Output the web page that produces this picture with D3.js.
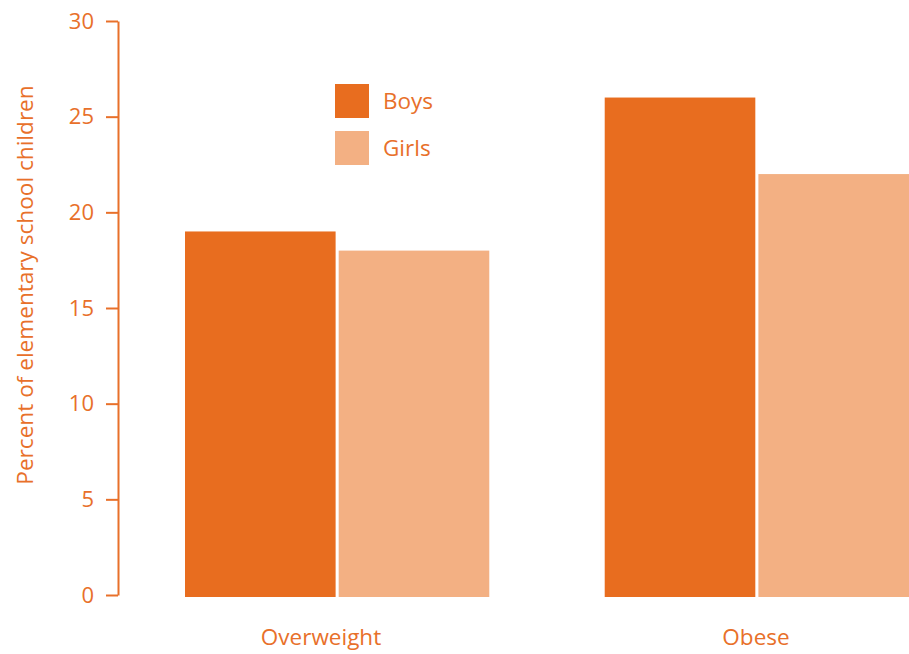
<!DOCTYPE html>
<html>
<head>
<meta charset="utf-8">
<script src="https://cdn.jsdelivr.net/npm/d3@7"></script>
<style>
  html, body { margin: 0; padding: 0; background: #fff; }
  svg { display: block; }
  text { font-family: "Open Sans", "Noto Sans", sans-serif; }
</style>
</head>
<body>
<svg id="chart" width="909" height="654"></svg>
<script>
const categories = ["Overweight", "Obese"];
const seriesNames = ["Boys", "Girls"];
const boys = [19, 26];
const girls = [18, 22];
const yTicks = [0, 5, 10, 15, 20, 25, 30];
const yLabel = "Percent of elementary school children";
const colors = { Boys: "#E86D1F", Girls: "#F3B083" };
const textColor = "#E8702A";

const svg = d3.select("#chart");
const yTop = 21, yBottom = 595;
const axisX = 118;

const y = d3.scaleLinear().domain([0, 30]).range([yBottom, yTop]);
const x0 = d3.scaleBand().domain(categories).range([185, 909]).paddingInner(0.275).paddingOuter(0);
const x1 = d3.scaleBand().domain(seriesNames).range([0, x0.bandwidth()]).paddingInner(0.02);
const xLabel = d3.scalePoint().domain(categories).range([321, 756]);

const data = categories.map((c, i) => ({ cat: c, values: [
  { key: "Boys", value: boys[i] },
  { key: "Girls", value: girls[i] }
]}));

// bars
const g = svg.append("g");
g.selectAll("g.grp").data(data).join("g")
  .attr("class", "grp")
  .attr("transform", d => `translate(${x0(d.cat)},0)`)
  .selectAll("rect").data(d => d.values).join("rect")
  .attr("x", d => x1(d.key))
  .attr("width", x1.bandwidth())
  .attr("y", d => y(d.value))
  .attr("height", d => y(0) - y(d.value) + 2)
  .attr("fill", d => colors[d.key]);

// y axis
const yAxis = d3.axisLeft(y).tickValues(yTicks).tickSize(12).tickSizeOuter(0).tickPadding(12);
const ax = svg.append("g").attr("transform", `translate(${axisX},0)`).call(yAxis);
ax.select(".domain").attr("stroke", textColor).attr("stroke-width", 2);
ax.selectAll(".tick line").attr("stroke", textColor).attr("stroke-width", 2);
ax.selectAll(".tick text").attr("fill", textColor).style("font-size", "22px")
  .style("font-family", "'Open Sans', sans-serif");

// x category labels
svg.append("g").selectAll("text").data(categories).join("text")
  .attr("x", d => xLabel(d))
  .attr("y", 645)
  .attr("text-anchor", "middle")
  .attr("fill", textColor)
  .style("font-size", "22.5px")
  .text(d => d);

// y label
svg.append("text")
  .attr("transform", `translate(33, 285) rotate(-90)`)
  .attr("text-anchor", "middle")
  .attr("fill", textColor)
  .style("font-size", "22.6px")
  .text(yLabel);

// legend
const legend = svg.append("g").attr("transform", "translate(335,84)");
const li = legend.selectAll("g").data(seriesNames).join("g")
  .attr("transform", (d, i) => `translate(0, ${i * 47})`);
li.append("rect").attr("width", 34).attr("height", 34).attr("fill", d => colors[d]);
li.append("text").attr("x", 48).attr("y", 25).attr("fill", textColor)
  .style("font-size", "22.5px").text(d => d);
</script>
</body>
</html>
